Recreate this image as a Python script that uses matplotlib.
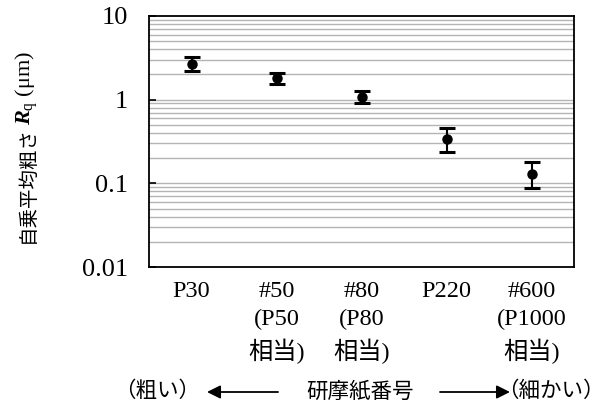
import numpy as np
import matplotlib.pyplot as plt
from matplotlib.ticker import FixedLocator, NullLocator

plt.rcParams['font.family'] = ['Liberation Serif', 'Noto Sans CJK JP']
plt.rcParams['mathtext.fontset'] = 'custom'
plt.rcParams['mathtext.rm'] = 'Liberation Serif'
plt.rcParams['mathtext.it'] = 'Liberation Serif:italic:bold'

labels = ['P30', '#50\n(P50\n相当)', '#80\n(P80\n相当)', 'P220', '#600\n(P1000\n相当)']
rq = [2.65, 1.80, 1.07, 0.34, 0.13]
rq_hi = [3.24, 2.08, 1.27, 0.46, 0.18]
rq_lo = [2.18, 1.55, 0.91, 0.235, 0.087]

rq = np.array(rq)
yerr = [rq - np.array(rq_lo), np.array(rq_hi) - rq]
x = np.arange(len(labels))

W, H = 616, 405
fig = plt.figure(figsize=(W / 100, H / 100), dpi=100)
ax = fig.add_axes([149 / W, 1 - 267 / H, 425 / W, 251 / H])

ax.set_yscale('log')
ax.set_ylim(0.01, 10)
ax.set_xlim(-0.5, len(labels) - 0.5)

# horizontal grid at every 1..9 step of each decade
grid = [m * 10.0 ** e for e in range(-2, 1) for m in range(1, 10)]
for g in grid:
    ax.axhline(g, color='#b4b4b4', lw=1.0, zorder=0)

ax.errorbar(x, rq, yerr=yerr, fmt='o', color='black', ms=6.5,
            elinewidth=1.5, capsize=5.5, capthick=2.2, zorder=3)

ax.yaxis.set_major_locator(FixedLocator([0.01, 0.1, 1, 10]))
ax.set_yticklabels(['0.01', '0.1', '1', '10'])
ax.yaxis.set_minor_locator(NullLocator())
ax.tick_params(axis='y', which='major', length=5, width=1.2, direction='in',
               labelsize=19, pad=15)

ax.set_xticks(x)
ax.set_xticklabels(labels, fontsize=17.5, linespacing=1.42, va='top')
ax.tick_params(axis='x', length=0, pad=10)

for s in ax.spines.values():
    s.set_linewidth(1.3)

# y label: Japanese text followed by the symbol in serif
ycap = fig.text(27 / W, 1 - 243 / H, '自乗平均粗さ', fontsize=14, rotation=90,
                ha='center', va='bottom', family='Noto Sans CJK JP')
fig.canvas.draw()
bb = ycap.get_window_extent().transformed(fig.transFigure.inverted())
fig.text(27 / W, bb.y1 + 1 / H, '$R_\\mathrm{q}$ (μm)', fontsize=16, rotation=90,
         ha='center', va='bottom')

# axis caption with direction arrows
cy = 1 - 392 / H
fig.text(360 / W, cy, '研摩紙番号', fontsize=15.5, ha='center', va='center')
fig.text(114 / W, cy, '（粗い）', fontsize=15.5, ha='left', va='center')
fig.text(497 / W, cy, '（細かい）', fontsize=15.5, ha='left', va='center')
for tip, tail in [(207, 278), (510, 440)]:
    fig.add_artist(plt.Annotation('', xy=(tip / W, cy), xytext=(tail / W, cy),
                                  xycoords='figure fraction',
                                  arrowprops=dict(arrowstyle='-|>', color='black', lw=1.3,
                                                  mutation_scale=20, shrinkA=0, shrinkB=0)))

fig.savefig('out.png', dpi=100)
